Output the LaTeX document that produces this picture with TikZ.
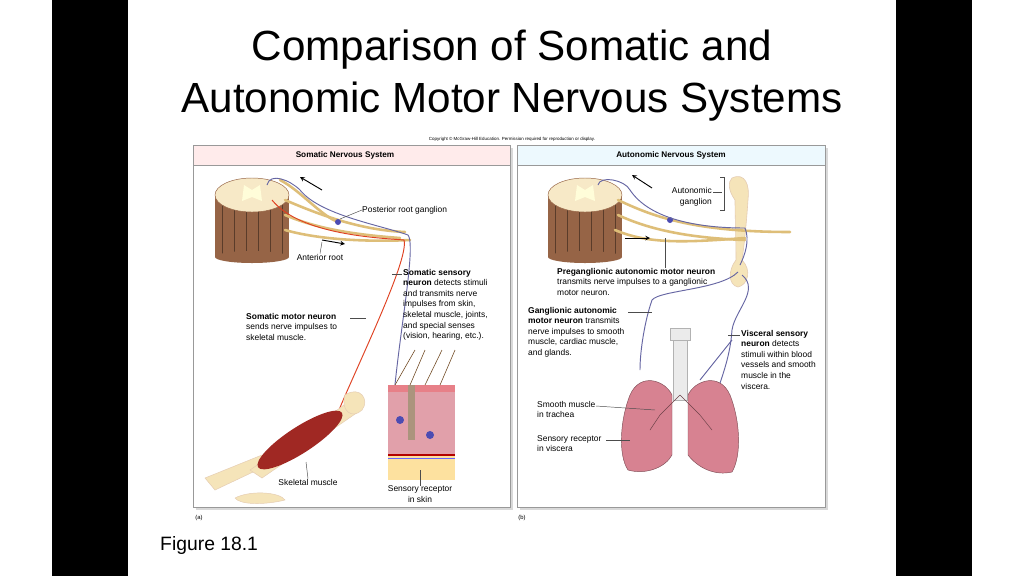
\documentclass[tikz,border=0pt]{standalone}
\usepackage{fontspec}
\setmainfont{Liberation Sans}
\definecolor{nervec}{RGB}{222,190,120}
\definecolor{creamc}{RGB}{245,228,185}
\definecolor{cordc}{RGB}{150,100,70}
\definecolor{lungc}{RGB}{215,130,145}
\definecolor{skinc}{RGB}{225,160,170}
\definecolor{musc}{RGB}{160,40,35}
\begin{document}
\begin{tikzpicture}[x=0.03cm,y=-0.03cm,
 lbl/.style={font=\fontsize{7.2}{9}\selectfont,inner sep=0pt,align=left},
 ldr/.style={draw=black!70,line width=0.4pt},
 nerve/.style={draw=nervec,line width=2.2pt,line cap=round},
 sens/.style={draw=blue!40!black!60,line width=0.8pt},
 mot/.style={draw=red!50!brown,line width=0.8pt},
 cream/.style={fill=creamc,draw=brown!40},
 panel/.style={draw=black!40,fill=white,line width=0.6pt}]
\useasboundingbox (0,0) rectangle (1024,576);
\fill[white] (0,0) rectangle (1024,576);
\fill[black] (52,0) rectangle (128,576);
\fill[black] (896,0) rectangle (972,576);
\node (t1) at (512,50) {\fontsize{36}{40}\selectfont Comparison of Somatic and};
\node (t2) at (512,102) {\fontsize{36}{40}\selectfont Autonomic Motor Nervous Systems};
\node (cp) at (512,139) {\fontsize{3.8}{4}\selectfont Copyright \textcopyright{} McGraw-Hill Education. Permission required for reproduction or display.};
\node[anchor=west,inner sep=0pt] (fig) at (160,545) {\fontsize{16.5}{18}\selectfont Figure 18.1};
% panels
\fill[black!15] (196,148) rectangle (513,510);
\fill[black!15] (520,148) rectangle (828,510);
\draw[panel] (193,145) rectangle (510,507);
\draw[panel] (517,145) rectangle (825,507);
\draw[black!40,fill=red!8] (193,145) rectangle (510,165);
\draw[black!40,fill=cyan!7] (517,145) rectangle (825,165);
\node[font=\bfseries\fontsize{7}{8}\selectfont] (h1) at (345,155) {Somatic Nervous System};
\node[font=\bfseries\fontsize{7}{8}\selectfont] (h2) at (671,155) {Autonomic Nervous System};
\node[font=\fontsize{5}{6}\selectfont] (pa) at (199,518) {(a)};
\node[font=\fontsize{5}{6}\selectfont] (pb) at (522,518) {(b)};
% spinal cords
\foreach \cx/\cy in {252/195,585/195}{
 \begin{scope}[shift={(\cx,\cy)}]
 \fill[cordc] (-37,0) rectangle (37,62);
 \foreach \i in {-30,-18,-6,6,18,30} \draw[cordc!60!black,line width=0.5pt] (\i,2) -- (\i,60);
 \fill[cordc] (0,62) ellipse (37 and 6);
 \fill[creamc!80!white,draw=cordc] (0,0) ellipse (37 and 17);
 \fill[white!85!yellow] (-8,-10) -- (0,-5) -- (8,-10) -- (10,6) -- (0,2) -- (-10,6) -- cycle;
 \end{scope}}
% somatic nerves
\draw[nerve] (285,200) .. controls (320,215) and (360,230) .. (405,232);
\draw[nerve] (285,215) .. controls (320,230) and (360,235) .. (400,238);
\draw[nerve] (285,230) .. controls (320,240) and (370,242) .. (410,240);
\draw[nerve] (280,180) .. controls (300,190) and (320,215) .. (338,222);
\fill[blue!40!gray] (338,222) circle (3);
\draw[sens] (267,185) .. controls (270,172) and (290,180) .. (300,190) .. controls (320,215) and (380,225) .. (408,235) .. controls (420,250) and (380,420) .. (395,472);
\draw[mot] (272,200) .. controls (300,235) and (380,238) .. (404,240) .. controls (410,260) and (350,380) .. (335,420);
\draw[-stealth,line width=0.8pt] (322,190) -- (300,177);
\draw[-stealth,line width=0.8pt] (322,240) -- (345,244);
% muscle + bones
\draw[cream] (205,478) -- (262,455) -- (270,464) -- (215,490) -- cycle;
\draw[cream] (250,470) -- (340,408) -- (350,400) -- (358,412) -- (262,478) -- cycle;
\draw[cream] (345,395) .. controls (360,385) and (370,400) .. (362,410) .. controls (352,420) and (340,410) .. (345,395);
\draw[cream] (235,498) .. controls (250,490) and (280,492) .. (285,500) .. controls (265,505) and (240,505) .. (235,498);
\fill[musc,rotate around={33:(300,440)}] (300,440) ellipse (50 and 13);
% skin block
\fill[yellow!40!orange!35] (388,455) rectangle (455,480);
\fill[skinc] (388,390) rectangle (455,455);
\fill[skinc!80!red] (388,385) rectangle (455,392);
\draw[red!70!black,line width=1pt] (388,455) -- (455,455);
\draw[blue!60,line width=0.8pt] (388,458) -- (455,458);
\fill[brown!60!black!60] (408,385) rectangle (415,440);
\foreach \x/\e in {395/415,410/425,425/442,440/455}
 \draw[brown!60!black,line width=0.5pt] (\x,385) -- (\e,350);
\fill[blue!40!gray] (400,420) circle (4);
\fill[blue!40!gray] (430,435) circle (4);
% left labels
\node[lbl,anchor=west] (prg) at (362,210) {Posterior root ganglion};
\draw[ldr] (340,219) -- (prg.west);
\node[lbl] (ar) at (320,257) {Anterior root};
\draw[ldr] (ar.north) -- (322,242);
\node[lbl,anchor=north west] (ssn) at (403,269) {\textbf{Somatic sensory}\\\textbf{neuron} detects stimuli\\and transmits nerve\\impulses from skin,\\skeletal muscle, joints,\\and special senses\\(vision, hearing, etc.).};
\draw[ldr] (392,274) -- (402,274);
\node[lbl,anchor=north west] (smn) at (246,313) {\textbf{Somatic motor neuron}\\sends nerve impulses to\\skeletal muscle.};
\draw[ldr] (350,318) -- (366,318);
\node[lbl] (skm) at (308,482) {Skeletal muscle};
\draw[ldr] (skm.north) -- (306,462);
\node[lbl,align=center] (srs) at (420,494) {Sensory receptor\\in skin};
\draw[ldr] (srs.north) -- (420,470);
% ---------- right: ganglion chain
\draw[cream,line width=0.5pt] (732,178) .. controls (745,172) and (750,185) .. (748,200) .. controls (747,215) and (745,240) .. (742,260) .. controls (752,270) and (748,285) .. (738,287) .. controls (728,285) and (728,270) .. (736,260) .. controls (736,240) and (735,215) .. (735,200) .. controls (728,190) and (728,182) .. (732,178);
\draw[nerve] (618,200) .. controls (650,215) and (690,232) .. (790,232);
\draw[nerve] (618,215) .. controls (650,230) and (690,238) .. (745,240);
\draw[nerve] (615,230) .. controls (650,245) and (690,242) .. (745,238);
\fill[blue!40!gray] (670,220) circle (3);
\draw[sens] (598,185) .. controls (600,175) and (625,180) .. (630,190) .. controls (650,220) and (700,228) .. (745,228) .. controls (750,240) and (745,255) .. (740,265);
\draw[sens] (738,272) .. controls (720,290) and (660,290) .. (652,300) .. controls (645,320) and (640,350) .. (640,370);
\draw[sens] (742,275) .. controls (760,290) and (735,310) .. (732,330) .. controls (730,360) and (720,380) .. (715,400);
\draw[sens] (732,340) -- (700,380);
\draw[-stealth,line width=0.8pt] (652,188) -- (632,175);
\draw[-stealth,line width=0.8pt] (625,238) -- (650,238);
% trachea + lungs
\fill[black!8,draw=black!30] (673,335) rectangle (687,400);
\fill[black!8,draw=black!30] (670,328) rectangle (690,340);
\fill[lungc,draw=lungc!60!black] (672,395) .. controls (665,380) and (640,372) .. (630,395) .. controls (620,420) and (618,455) .. (628,470) .. controls (645,475) and (665,468) .. (672,455) -- cycle;
\fill[lungc,draw=lungc!60!black] (688,395) .. controls (695,380) and (720,372) .. (730,395) .. controls (740,420) and (742,455) .. (732,472) .. controls (715,476) and (698,468) .. (688,455) -- cycle;
\draw[lungc!50!black,line width=0.4pt] (680,395) -- (660,415) (680,395) -- (700,415) (660,415) -- (650,430) (700,415) -- (712,430);
% right labels
\node[lbl,align=right,anchor=east] (ag) at (712,197) {Autonomic\\ganglion};
\draw[ldr] (713,192) -- (722,192) (720,177) -- (724,177) -- (724,210) -- (720,210);
\node[lbl,anchor=north west] (pre) at (557,268) {\textbf{Preganglionic autonomic motor neuron}\\transmits nerve impulses to a ganglionic\\motor neuron.};
\draw[ldr] (665,268) -- (665,238);
\node[lbl,anchor=north west] (gam) at (528,307) {\textbf{Ganglionic autonomic}\\\textbf{motor neuron} transmits\\nerve impulses to smooth\\muscle, cardiac muscle,\\and glands.};
\draw[ldr] (628,312) -- (652,312);
\node[lbl,anchor=north west] (vsn) at (741,330) {\textbf{Visceral sensory}\\\textbf{neuron} detects\\stimuli within blood\\vessels and smooth\\muscle in the\\viscera.};
\draw[ldr] (728,335) -- (740,335);
\node[lbl,anchor=north west] (smt) at (537,401) {Smooth muscle\\in trachea};
\draw[ldr] (596,406) -- (655,410);
\node[lbl,anchor=north west] (srv) at (537,435) {Sensory receptor\\in viscera};
\draw[ldr] (606,440) -- (630,440);
\end{tikzpicture}
\end{document}
